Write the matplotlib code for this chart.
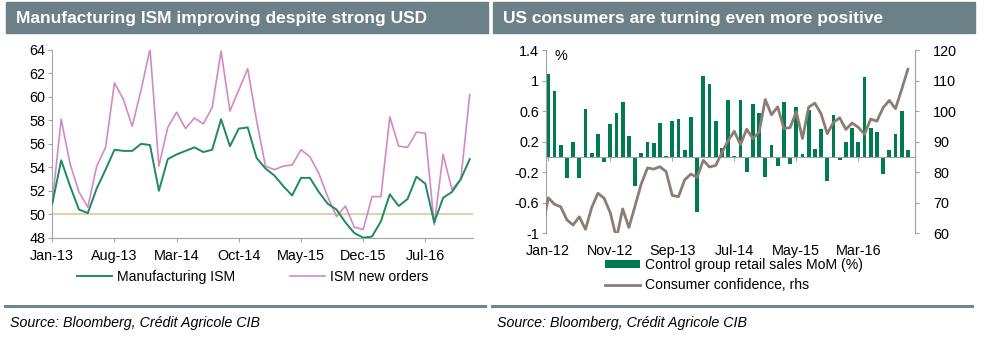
import numpy as np
import matplotlib.pyplot as plt
from matplotlib.patches import Rectangle
from matplotlib.lines import Line2D

plt.rcParams['font.family'] = ['Liberation Sans', 'DejaVu Sans']

# ---- left panel data: ISM, monthly Jan-13 .. Dec-16
ism_ticks = ['Jan-13', 'Aug-13', 'Mar-14', 'Oct-14', 'May-15', 'Dec-15', 'Jul-16']
ism_mfg = [50.9, 54.6, 52.4, 50.4, 50.1, 52.2, 53.8, 55.5, 55.4, 55.4,
           56.0, 55.9, 52.0, 54.7, 55.1, 55.4, 55.7, 55.3, 55.5, 58.1,
           55.8, 57.3, 57.4, 54.8, 53.9, 53.3, 52.4, 51.6, 53.1, 53.1,
           51.9, 50.9, 50.4, 49.3, 48.4, 48.0, 48.1, 49.4, 51.7, 50.7,
           51.3, 53.2, 52.6, 49.3, 51.4, 51.9, 53.0, 54.7]
ism_orders = [51.0, 58.1, 54.3, 51.9, 50.6, 54.1, 55.7, 61.2, 59.8, 57.5,
              60.6, 64.1, 54.1, 57.4, 58.7, 57.3, 58.2, 57.7, 59.1, 63.9,
              58.8, 60.6, 62.4, 58.0, 54.1, 53.8, 54.1, 54.2, 55.5, 54.9,
              53.5, 51.5, 49.8, 50.7, 48.9, 48.7, 51.5, 51.5, 58.3, 55.8,
              55.7, 57.0, 56.9, 49.1, 55.1, 52.1, 53.0, 60.2]

# ---- right panel data
us_ticks = ['Jan-12', 'Nov-12', 'Sep-13', 'Jul-14', 'May-15', 'Mar-16']
retail = [1.08, 0.86, 0.16, -0.27, 0.20, -0.27, 0.63, 0.05, 0.30, -0.07,
          0.43, 0.58, 0.72, 0.27, -0.38, 0.05, 0.20, 0.18, 0.45, 0.01,
          0.47, 0.50, 0.09, 0.52, -0.72, 1.06, 0.96, 0.47, 0.12, 0.74,
          0.01, 0.74, -0.20, 0.69, 0.58, -0.26, 0.16, -0.12, 0.72, -0.09,
          0.66, 0.04, 0.61, 0.10, 0.36, -0.32, 0.55, -0.04, 0.20, 0.38,
          0.20, 1.05, 0.38, 0.32, -0.22, 0.09, 0.30, 0.60, 0.09]
confidence = [61.5, 71.6, 69.5, 68.7, 64.4, 62.7, 65.4, 61.3, 68.4, 73.1, 71.5, 66.7,
              58.4, 68.0, 61.9, 69.0, 76.2, 81.4, 81.0, 81.8, 80.2, 72.4, 72.0, 77.5,
              79.4, 78.3, 83.9, 81.7, 82.2, 86.4, 90.3, 93.4, 89.0, 94.1, 91.0, 93.1,
              103.8, 98.8, 101.4, 94.3, 94.6, 99.8, 91.0, 101.3, 102.6, 99.1, 92.6, 96.3,
              97.8, 94.0, 96.1, 94.7, 92.4, 97.4, 96.7, 101.1, 103.5, 100.8, 107.1, 113.7]

W, H = 986, 341
fig = plt.figure(figsize=(W / 100, H / 100), dpi=100)

def fx(p):
    return p / W

def fy(p):
    return 1 - p / H

head_c = '#6b8187'
axis_c = '#a3a3a3'
green = '#1e8a5e'
pink = '#d28ac6'
bar_c = '#007a4f'
conf_c = '#8c7d74'
tick_fs = 10.4
leg_fs = 10.1

# headers, separators, sources
for x0, x1, title in [(6, 488, 'Manufacturing ISM improving despite strong USD'),
                      (493, 975, 'US consumers are turning even more positive')]:
    fig.patches.append(Rectangle((fx(x0), fy(33)), (x1 - x0) / W, 31 / H,
                                 transform=fig.transFigure, color=head_c, zorder=0))
    fig.text(fx(x0 + 10), fy(18), title, color='white', weight='bold', size=12.5, va='center')
    fig.add_artist(Line2D([fx(x0 - 1), fx(x1 - 3)], [fy(306), fy(306)], lw=2.2, color='#6f868d'))
    fig.text(fx(x0 + 4), fy(323), 'Source: Bloomberg, Crédit Agricole CIB',
             style='italic', size=10.3, va='center')

# ---- left chart
ax = fig.add_axes([fx(52.3), fy(237.7), 421 / W, 187.7 / H])
x = np.arange(len(ism_mfg))
ax.axhline(50, color='#d9d5ad', lw=1.5, zorder=1)
l1, = ax.plot(x, ism_mfg, color=green, lw=1.4, label='Manufacturing ISM', zorder=3)
l2, = ax.plot(x, ism_orders, color=pink, lw=1.2, label='ISM new orders', zorder=2)
ax.set_xlim(0, 47.4)
ax.set_ylim(48, 64)
ax.set_yticks(np.arange(48, 65, 2))
ax.set_xticks(np.arange(0, 43, 7))
ax.set_xticklabels(ism_ticks)
for s in ['top', 'right']:
    ax.spines[s].set_visible(False)
for s in ['left', 'bottom']:
    ax.spines[s].set_color(axis_c)
ax.tick_params(axis='both', colors=axis_c, labelcolor='black', labelsize=tick_fs,
               length=3, direction='out')
ax.tick_params(axis='y', pad=2)
ax.tick_params(axis='x', pad=5)
fig.legend(handles=[l1, l2], loc='center left', bbox_to_anchor=(fx(77), fy(277)), ncol=2,
           frameon=False, fontsize=leg_fs, handlelength=2.5, handletextpad=0.35,
           columnspacing=3.9, borderpad=0, borderaxespad=0)

# ---- right chart
ax2 = fig.add_axes([fx(546), fy(233.3), 369 / W, 183.3 / H])
xb = np.arange(len(retail))
bars = ax2.bar(xb, retail, width=0.62, color=bar_c, label='Control group retail sales MoM (%)')
ax2.set_xlim(-0.37, 59.15)
ax2.set_ylim(-1, 1.4)
yt = [-1, -0.6, -0.2, 0.2, 0.6, 1, 1.4]
ax2.set_yticks(yt)
ax2.set_yticklabels(['%g' % v for v in yt])
ax2.set_xticks(np.arange(0, 51, 10))
ax2.set_xticklabels(us_ticks)
ax2.spines['top'].set_visible(False)
ax2.spines['bottom'].set_position(('data', 0))
for s in ['left', 'bottom', 'right']:
    ax2.spines[s].set_color(axis_c)
ax2.tick_params(axis='both', colors=axis_c, labelcolor='black', labelsize=tick_fs,
                length=3, direction='out')
ax2.tick_params(axis='y', pad=2)
ax2.tick_params(axis='x', pad=60)
ax2.text(0.04, 0.965, '%', transform=ax2.transAxes, fontsize=tick_fs, va='center', ha='center')

ax3 = ax2.twinx()
xc = np.arange(len(confidence)) - 1
l3, = ax3.plot(xc, confidence, color=conf_c, lw=2.0, label='Consumer confidence, rhs')
ax3.set_ylim(60, 120)
ax3.set_yticks(np.arange(60, 121, 10))
for s in ['top', 'left', 'bottom']:
    ax3.spines[s].set_visible(False)
ax3.spines['right'].set_color(axis_c)
ax3.tick_params(axis='y', colors=axis_c, labelcolor='black', labelsize=tick_fs,
                length=3, direction='out', pad=10)

fig.legend(handles=[bars, l3], loc='upper left', bbox_to_anchor=(fx(605), fy(258)),
           frameon=False, fontsize=leg_fs, handlelength=2.5, handletextpad=0.35,
           handleheight=0.55, labelspacing=0.45, borderpad=0, borderaxespad=0)

fig.savefig('out.png', dpi=100)
